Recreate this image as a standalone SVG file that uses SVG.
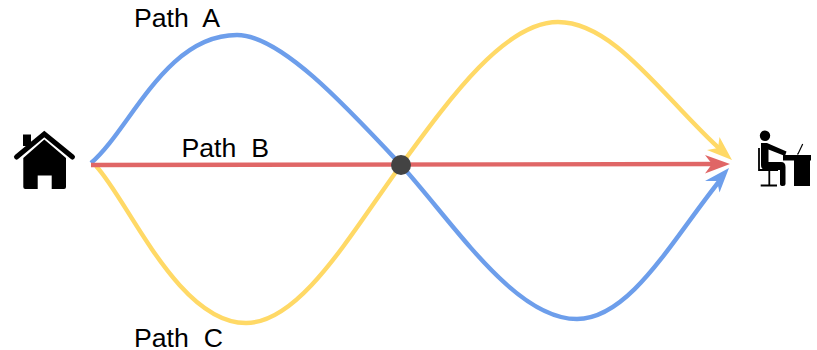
<svg xmlns="http://www.w3.org/2000/svg" width="817" height="350" viewBox="0 0 817 350">
<style>
.c{fill:none;stroke-width:4.400}
.l{font:26.67px "Liberation Sans",Arial,sans-serif;fill:#000;white-space:pre}
</style>
<rect width="817" height="350" fill="#fff"/>
<g id="connectors">
<path id="path-c" class="c" stroke="#ffd966" d="M96 166C128 200 178 323 246 323C300 323 350 235 401 165C450 98 505 22 558 22C615 22 665 100 722 151"/>
<path d="M732 160L707 150L718 148L719.500 137Z" fill="#ffd966"/>
<path id="path-a" class="c" stroke="#6d9eeb" d="M91 163C130 130 165 35 237 35C280 35 345 105 401 165C455 225 515 319 577 319C630 319 672 240 721 179"/>
<path d="M729 168L719.500 192.500L717 181L705 181Z" fill="#6d9eeb"/>
<path id="path-b" class="c" stroke="#e06666" d="M91 165L720 164"/>
<path d="M730 164L705 173.500L712 164L705 155Z" fill="#e06666"/>
</g>
<g id="junction"><circle cx="401" cy="165" r="10" fill="#434343"/></g>
<g id="home">
<path d="M16.500 157L44.300 134L72.500 157" fill="none" stroke="#000" stroke-width="5" stroke-linecap="round"/>
<rect x="23" y="134.500" width="8" height="11.500" fill="#000"/>
<path d="M44.300 139.500L66 158V187Q66 189 64 189H25.300Q23.300 189 23.300 187V158ZM37.700 189H51.700V175.500H37.700Z" fill="#000" fill-rule="evenodd"/>
</g>
<g id="worker">
<circle cx="765" cy="135.700" r="5.200" fill="#000"/>
<path d="M761 143H767L786.500 151.500L785 156L768.500 149.500V162H781Q785.500 162 785.500 167V184Q785.500 186 783 186Q780 186 780 184V170H766Q761 170 761 165Z" fill="#000"/>
<path d="M759 148V170H778M769.300 170V185M760.700 185.500H777" fill="none" stroke="#000" stroke-width="1.800"/>
<rect x="783" y="155" width="28" height="5.500" fill="#000"/>
<rect x="794" y="160" width="16" height="26" fill="#000"/>
<path d="M797 154H798L802.700 144" fill="none" stroke="#000" stroke-width="1.200"/>
</g>
<g id="labels">
<text class="l" x="134" y="27">Path  A</text>
<text class="l" x="181.500" y="156.500">Path  B</text>
<text class="l" x="134" y="346.500">Path  C</text>
</g>
</svg>
